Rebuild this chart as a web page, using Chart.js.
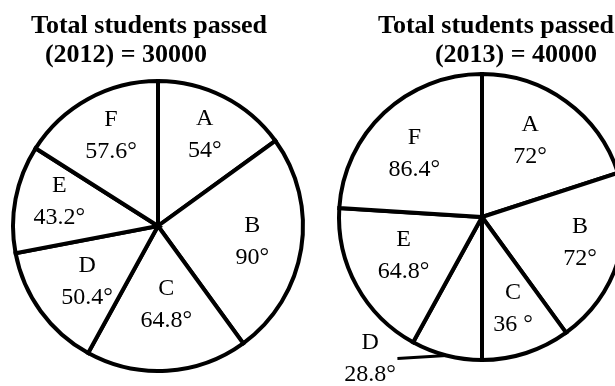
<!DOCTYPE html>
<html>
<head>
<meta charset="utf-8">
<script src="https://cdn.jsdelivr.net/npm/chart.js@4/dist/chart.umd.min.js"></script>
<style>
    html, body { margin: 0; padding: 0; background: #fff; overflow: hidden; width: 615px; height: 386px; }
    canvas { position: absolute; top: 0; }
    #pie2012 { left: 0; }
    #pie2013 { left: 320px; }
</style>
</head>
<body>
<canvas id="pie2012" width="316" height="386"></canvas>
<canvas id="pie2013" width="324" height="386"></canvas>
<script>
// Data (central angles in degrees)
const departments = ['A', 'B', 'C', 'D', 'E', 'F'];
const angles2012 = [54, 90, 64.8, 50.4, 43.2, 57.6];
const angles2013 = [72, 72, 36, 28.8, 64.8, 86.4];
const titleLines2012 = ['Total students passed', '(2012) = 30000'];
const titleLines2013 = ['Total students passed', '(2013) = 40000'];

const SERIF = '"Liberation Serif", "Times New Roman", serif';

// Draws the titles and the slice labels
const pieLabels = {
    id: 'pieLabels',
    afterDatasetsDraw(chart, args, opts) {
        const ctx = chart.ctx;
        const arcs = chart.getDatasetMeta(0).data;
        const values = chart.data.datasets[0].data;
        ctx.save();
        ctx.fillStyle = '#000';
        ctx.strokeStyle = '#000';

        // title
        ctx.font = 'bold 26px ' + SERIF;
        ctx.textAlign = 'center';
        ctx.textBaseline = 'alphabetic';
        opts.title.forEach((line, i) => {
            ctx.fillText(line, opts.titleX[i], opts.titleY[i]);
        });

        // slice labels
        ctx.font = '24px ' + SERIF;
        ctx.textBaseline = 'middle';
        arcs.forEach((arc, i) => {
            const {x, y, startAngle, endAngle, outerRadius} = arc.getProps(['x', 'y', 'startAngle', 'endAngle', 'outerRadius'], true);
            const mid = (startAngle + endAngle) / 2;
            const a = mid + opts.turn[i] * Math.PI / 180;
            const r = outerRadius * opts.dist[i];
            const lx = x + Math.cos(a) * r;
            const ly = y + Math.sin(a) * r;
            const text = chart.data.labels[i];
            const deg = opts.degText ? opts.degText[i] : values[i] + '°';
            ctx.fillText(text, lx, ly - 16);
            ctx.fillText(deg, lx, ly + 16);
            if (opts.leader && opts.leader[i]) {
                const ex = x + Math.cos(mid) * outerRadius;
                const ey = y + Math.sin(mid) * outerRadius;
                ctx.lineWidth = 3;
                ctx.beginPath();
                ctx.moveTo(ex, ey);
                ctx.lineTo(ex - 49, ey + 3);
                ctx.stroke();
            }
        });
        ctx.restore();
    }
};

function makePie(canvasId, values, radius, padTop, labelOpts) {
    const ctx = document.getElementById(canvasId).getContext('2d');
    return new Chart(ctx, {
        type: 'pie',
        data: {
            labels: departments,
            datasets: [{
                data: values,
                backgroundColor: '#ffffff',
                borderColor: '#000000',
                borderWidth: 4,
                borderJoinStyle: 'miter'
            }]
        },
        options: {
            responsive: false,
            animation: false,
            radius: radius,
            layout: {
                padding: { top: padTop, bottom: 0, left: 0, right: 0 }
            },
            plugins: {
                legend: { display: false },
                tooltip: { enabled: false },
                pieLabels: labelOpts
            }
        },
        plugins: [pieLabels]
    });
}

makePie('pie2012', angles2012, 145, 66, {
    title: titleLines2012,
    titleX: [149, 126],
    titleY: [33, 62],
    dist: [0.71, 0.66, 0.545, 0.62, 0.70, 0.70],
    turn: [0, 0.6, -2.4, -2, 2.8, 1.2]
});

makePie('pie2013', angles2013, 143, 48, {
    title: titleLines2013,
    titleX: [176, 196],
    titleY: [33, 62],
    dist: [0.63, 0.71, 0.68, 1.26, 0.61, 0.65],
    turn: [-3.7, -3.1, -0.6, 24, 2.8, -3.5],
    degText: ['72°', '72°', '36 °', '28.8°', '64.8°', '86.4°'],
    leader: [false, false, false, true, false, false]
});
</script>
</body>
</html>
